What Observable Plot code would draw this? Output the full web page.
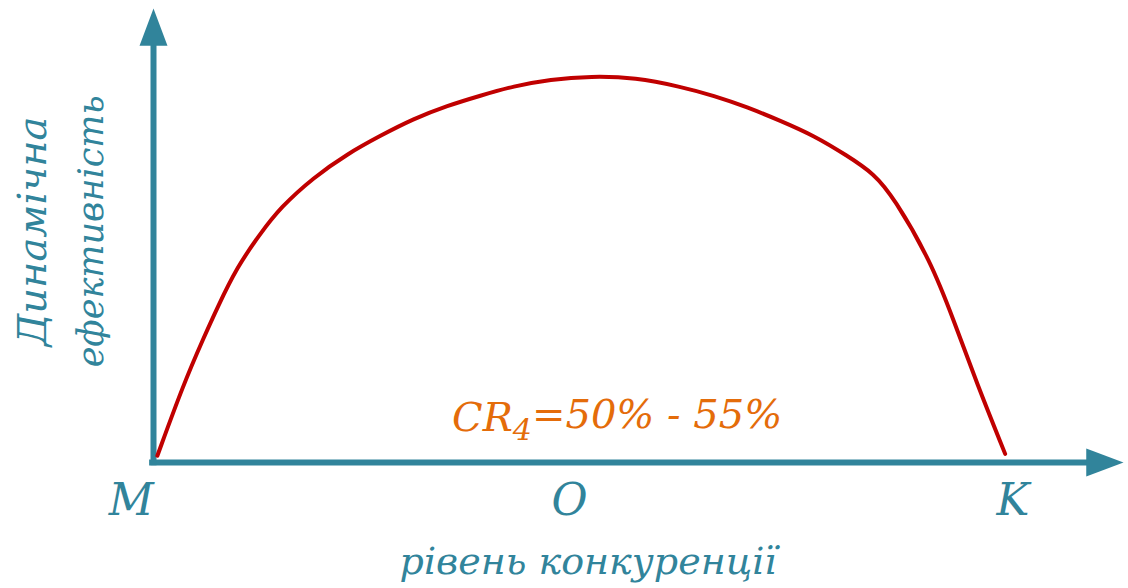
<!DOCTYPE html>
<html>
<head>
<meta charset="utf-8">
<script src="https://cdn.jsdelivr.net/npm/d3@7"></script>
<script src="https://cdn.jsdelivr.net/npm/@observablehq/plot@0.6"></script>
<style>
  html, body { margin: 0; padding: 0; background: #ffffff; }
  #chart { width: 1128px; height: 588px; }
</style>
</head>
<body>
<div id="chart"></div>
<script>
// Curve: level of competition (x) vs dynamic efficiency (y)
const curveX = [0.4, 3.1, 5.2, 6.6, 8.6, 11.0, 13.1, 16.5, 20.0, 23.4, 26.8, 30.3, 33.7, 37.1, 40.9, 45.1, 49.7, 54.3, 57.8, 61.2, 64.6, 68.1, 71.5, 74.3, 76.3, 80.1, 82.5, 84.9, 87.8];
const curveY = [1.5, 17.3, 27.6, 34.2, 43.0, 50.4, 56.2, 62.8, 68.0, 72.0, 75.7, 78.6, 80.8, 82.9, 84.4, 85.1, 84.8, 82.8, 80.8, 78.3, 75.3, 72.0, 67.6, 63.6, 58.4, 44.5, 31.3, 17.3, 1.9];

// Point labels along the horizontal axis
const pointLabels = ["M", "O", "K"];
const pointX = [-2.3, 42.9, 88.6];

// Axis titles and annotation
const xTitle = "рівень конкуренції";
const yTitleLines = ["Динамічна", "ефективність"];
const annotation = "CR4=50% - 55%";

const teal = "#31849B";
const red = "#C00000";
const orange = "#E46C0A";
const font = "'DejaVu Serif', 'Liberation Serif', 'Times New Roman', serif";

const curve = curveX.map((x, i) => ({x, y: curveY[i]}));

// Filled arrowhead: tip at origin, pointing up
const arrowHead = {
  draw(context, size) {
    const r = Math.sqrt(size / Math.PI);
    const hw = r / 2, len = r * 1.33;
    context.moveTo(0, 0);
    context.lineTo(hw, len);
    context.lineTo(-hw, len);
    context.closePath();
  }
};

const chart = Plot.plot({
  width: 1128,
  height: 588,
  marginLeft: 153,
  marginRight: 5,
  marginTop: 8,
  marginBottom: 126,
  x: {domain: [0, 100], axis: null},
  y: {domain: [0, 100], axis: null},
  style: {background: "#ffffff"},
  marks: [
    Plot.ruleY([0], {x1: -0.4, x2: 97, stroke: teal, strokeWidth: 6}),
    Plot.ruleX([0], {y1: -0.7, y2: 95, stroke: teal, strokeWidth: 6}),
    Plot.dot([{x: 0, y: 100}], {x: "x", y: "y", symbol: arrowHead, r: 28, fill: teal, stroke: null}),
    Plot.dot([{x: 100, y: 0}], {x: "x", y: "y", symbol: arrowHead, r: 28, fill: teal, stroke: null, rotate: 90}),
    Plot.line(curve, {x: "x", y: "y", curve: "basis", stroke: red, strokeWidth: 4}),
    Plot.text([annotation], {x: 47.8, y: 7.0, text: d => d, fill: orange, fontFamily: font, fontSize: 40, fontStyle: "italic", textAnchor: "middle", lineAnchor: "bottom", className: "cr-label"}),
    Plot.text(pointLabels, {x: (d, i) => pointX[i], y: -8.4, text: d => d, fill: teal, fontFamily: font, fontSize: 44, fontStyle: "italic", textAnchor: "middle"}),
    Plot.text([xTitle], {x: 44.8, y: -21.8, text: d => d, fill: teal, fontFamily: font, fontSize: 38, fontStyle: "italic", textAnchor: "middle"}),
    Plot.text(yTitleLines, {x: (d, i) => [-12.4, -6.4][i], y: 50.9, text: d => d, fill: teal, fontFamily: font, fontSize: (d, i) => [40, 35][i], fontStyle: "italic", rotate: -90, textAnchor: "middle"})
  ]
});

// subscript the 4 in CR4, keeping it as real text
const t = chart.querySelector(".cr-label text");
if (t) {
  t.textContent = "";
  const ns = "http://www.w3.org/2000/svg";
  const a = document.createElementNS(ns, "tspan"); a.textContent = "CR";
  const b = document.createElementNS(ns, "tspan"); b.textContent = "4"; b.setAttribute("dy", "0.3em"); b.setAttribute("font-size", "0.75em");
  const c = document.createElementNS(ns, "tspan"); c.textContent = "=50% - 55%"; c.setAttribute("dy", "-0.3em");
  t.append(a, b, c);
}

document.getElementById("chart").appendChild(chart);
</script>
</body>
</html>
